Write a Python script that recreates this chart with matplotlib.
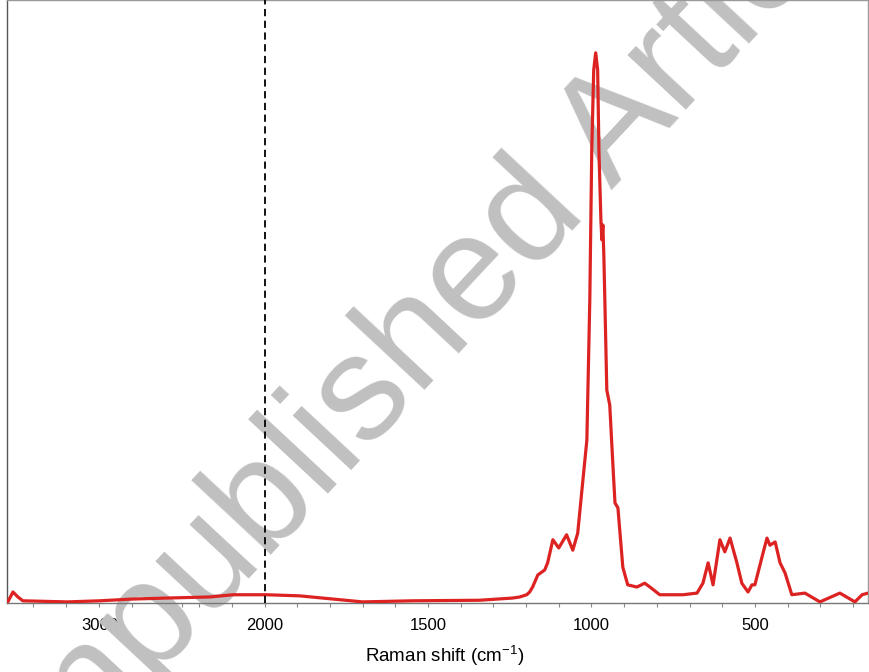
import numpy as np
import matplotlib
matplotlib.use("Agg")
import matplotlib.pyplot as plt
from matplotlib.ticker import FixedLocator

plt.rcParams['font.family'] = ['Liberation Sans', 'DejaVu Sans']
plt.rcParams['mathtext.fontset'] = 'custom'
plt.rcParams['mathtext.rm'] = 'Liberation Sans'
plt.rcParams['mathtext.it'] = 'Liberation Sans:italic'
plt.rcParams['mathtext.bf'] = 'Liberation Sans:bold'

# Raman shift (cm-1) and normalised intensity (a.u.)
shift = [3555, 3524, 3494, 3464, 3197, 2997, 2815, 2591, 2330, 2191, 2003,
         1994, 1893, 1700, 1547, 1342, 1241, 1219, 1198, 1189, 1180, 1164,
         1143, 1134, 1118, 1100, 1076, 1057, 1042, 1026, 1014, 1005, 999,
         993, 987, 981, 977, 971, 968, 965, 962, 959, 953, 944, 934, 928,
         919, 904, 889, 861, 837, 821, 791, 720, 677, 659, 643, 628, 607,
         592, 576, 555, 540, 521, 509, 500, 475, 463, 454, 438, 423, 408,
         387, 347, 301, 240, 194, 172, 154]
intensity = [0.002, 0.020, 0.011, 0.004, 0.002, 0.004, 0.007, 0.009, 0.011,
             0.015, 0.015, 0.015, 0.013, 0.002, 0.004, 0.005, 0.009, 0.011,
             0.015, 0.020, 0.029, 0.051, 0.060, 0.073, 0.115, 0.100, 0.124,
             0.096, 0.127, 0.224, 0.296, 0.551, 0.824, 0.969, 1.000, 0.969,
             0.820, 0.695, 0.660, 0.687, 0.630, 0.551, 0.387, 0.360, 0.247,
             0.182, 0.173, 0.065, 0.033, 0.029, 0.036, 0.029, 0.015, 0.015,
             0.018, 0.036, 0.073, 0.033, 0.115, 0.093, 0.118, 0.073, 0.036,
             0.020, 0.033, 0.033, 0.091, 0.118, 0.105, 0.111, 0.073, 0.055,
             0.015, 0.018, 0.002, 0.018, 0.002, 0.015, 0.018]

major_ticks = [3000, 2500, 2000, 1500, 1000, 500]
tick_labels = ['3000', '', '2000', '1500', '1000', '500']
break_at = 2000
watermark = 'Unpublished Article'

RATIO = 0.505


def fwd(x):
    x = np.asarray(x, dtype=float)
    return np.where(x > break_at, break_at + (x - break_at) * RATIO, x)


def inv(u):
    u = np.asarray(u, dtype=float)
    return np.where(u > break_at, break_at + (u - break_at) / RATIO, u)


fig = plt.figure(figsize=(8.70, 6.72), dpi=100)
ax = fig.add_axes([7 / 870, (672 - 603) / 672, 861 / 870, 603 / 672])
ax.set_xscale('function', functions=(fwd, inv))
ax.set_xlim(3560, 154)
ax.set_ylim(0, 1.096)

ax.plot(shift, intensity, color='#dd2222', lw=2.3, zorder=3, solid_joinstyle='round')
ax.axvline(break_at, color='black', lw=1.3, ls=(0, (4, 2.5)), zorder=3)

ax.xaxis.set_major_locator(FixedLocator(major_ticks))
ax.set_xticklabels(tick_labels)
minor = list(range(3400, 2000, -200)) + list(range(1900, 100, -100))
minor = [m for m in minor if m not in major_ticks]
ax.xaxis.set_minor_locator(FixedLocator(minor))
ax.tick_params(axis='x', which='both', direction='out', length=3, width=0.8,
               color='#888888', labelsize=12, pad=8)
ax.set_yticks([])
for s in ax.spines.values():
    s.set_color('#999999')
    s.set_linewidth(1.0)
ax.spines['left'].set_color('#555555')
ax.spines['bottom'].set_color('#777777')
ax.set_xlabel('Raman shift (cm$^{-1}$)', fontsize=13.5, labelpad=5)
ax.xaxis.set_label_coords(0.508, -0.068)
ax.xaxis.set_zorder(1)

ax.text(0.023, -0.226, watermark, transform=fig.transFigure, rotation=47,
        rotation_mode='anchor', ha='left', va='baseline', fontsize=108,
        color='#c0c0c0', zorder=2, clip_on=False)

fig.savefig('out.png', dpi=100)
